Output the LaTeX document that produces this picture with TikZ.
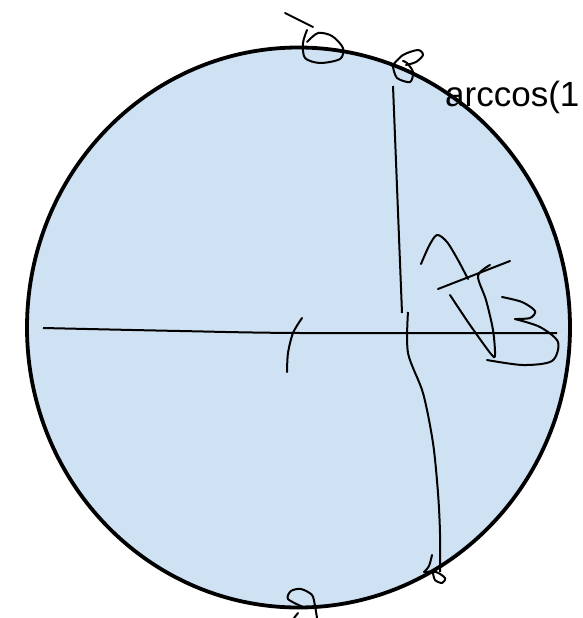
\documentclass[tikz,border=0pt]{standalone}
\usepackage{fontspec}
\setmainfont{Liberation Sans}
\usepackage{xcolor}
\definecolor{discfill}{HTML}{CFE2F3}
\definecolor{ink}{HTML}{000000}

\begin{document}
\begin{tikzpicture}[
  x=1pt, y=-1pt,
  disc/.style={draw=ink, line width=3.8pt, fill=discfill},
  axis/.style={ink, line width=2pt},
  pen/.style={ink, line width=2pt, line cap=round, line join=round},
  lbl/.style={font=\fontsize{35}{40}\selectfont, inner sep=0pt, anchor=base west},
]
\useasboundingbox (0,0) rectangle (583,618);
\clip (0,0) rectangle (583,618);

% ---------- disc ----------
\draw[disc] (298.5,327.5) ellipse (271.5 and 280);

% ---------- axes ----------
\draw[axis] plot[smooth] coordinates {(43,328) (180,331) (300,333) (557,333)};
\draw[axis] (393,86) -- (402,313);
\draw[axis] plot[smooth] coordinates {(408,312) (408,353) (423,393) (433,443) (438,493) (440,533) (440,572)};

% ---------- small arc ----------
\draw[pen] plot[smooth] coordinates {(302,318) (293,333) (288,353) (287,372)};

% ---------- top scribbles ----------
\draw[pen] (285,13) -- (313,27);
\draw[pen] plot[smooth] coordinates {(307,30) (303,43) (305,58) (320,63) (340,59) (343,48) (332,36) (318,33) (307,42)};
\draw[pen] plot[smooth] coordinates {(392,66) (403,55) (418,50) (423,55) (416,62) (406,65)};
\draw[pen] plot[smooth] coordinates {(393,67) (397,78) (410,82) (413,72) (407,63) (403,61)};

% ---------- bottom scribbles ----------
\draw[pen] plot[smooth] coordinates {(303,607) (288,599) (291,591) (301,589) (312,595) (315,606) (317,618)};
\draw[pen] (294,618) -- (298,613);
\draw[pen] plot[smooth] coordinates {(432,555) (429,566) (424,572)};
\draw[pen] plot[smooth] coordinates {(424,572) (436,572) (445,578) (442,583) (435,580) (433,573)};

% ---------- pi/3 ----------
\draw[pen] plot[smooth] coordinates {(421,264) (429,246) (437,235) (447,242) (458,260) (468,279)};
\draw[pen] (438,289) -- (510,261);
\draw[pen] plot[smooth] coordinates {(450,295) (470,325) (491,354) (495,355) (493,330) (486,300) (478,276) (490,265)};
\draw[pen] plot[smooth] coordinates {(502,297) (522,302) (535,311) (530,318) (515,319)};
\draw[pen] plot[smooth] coordinates {(515,319) (540,327) (558,342) (552,361) (523,365) (487,360)};

% ---------- label ----------
\node[lbl] (angle) at (445,106) {arccos(1};

\end{tikzpicture}
\end{document}
